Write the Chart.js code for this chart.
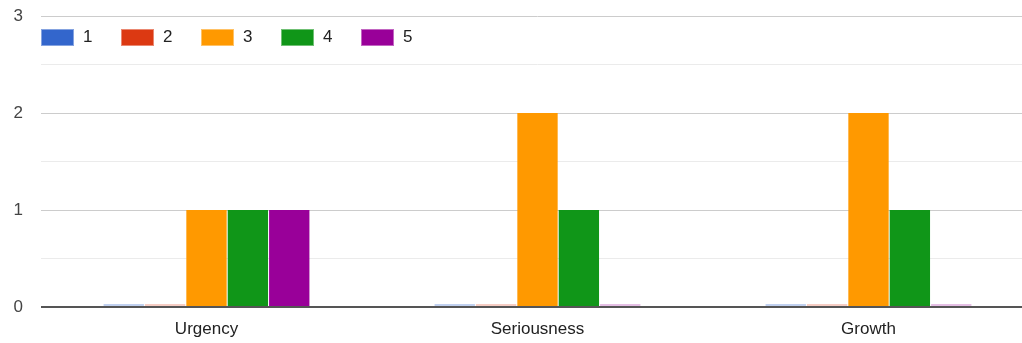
<!DOCTYPE html>
<html>
<head>
<meta charset="utf-8">
<script src="https://cdn.jsdelivr.net/npm/chart.js@4"></script>
<style>
    html, body { margin: 0; padding: 0; background: #fff; overflow: hidden; }
    #wrap { position: relative; width: 1022px; height: 343px; overflow: hidden; }
    #barChart { position: absolute; left: 0; top: 0; }
    #legend { position: absolute; left: 41px; top: 27px; display: flex; font-family: Arial, "Liberation Sans", sans-serif; font-size: 17px; color: #222; }
    .item { display: flex; align-items: center; width: 80px; }
    .box { width: 31px; height: 15px; border: 1px solid; margin-right: 9px; }
</style>
</head>
<body>
<div id="wrap">
    <canvas id="barChart" width="1036" height="343"></canvas>
    <div id="legend"></div>
</div>
<script>
const categories = ['Urgency', 'Seriousness', 'Growth'];
const seriesNames = ['1', '2', '3', '4', '5'];
const series1 = [0, 0, 0];
const series2 = [0, 0, 0];
const series3 = [1, 2, 2];
const series4 = [1, 1, 1];
const series5 = [1, 0, 0];
const yTicks = [0, 1, 2, 3];

const colors = ['#3366cc', '#dc3912', '#ff9900', '#109618', '#990099'];
const faded = ['rgba(51,102,204,0.3)', 'rgba(220,57,18,0.25)', 'rgba(255,153,0,0.3)', 'rgba(16,150,24,0.25)', 'rgba(153,0,153,0.25)'];
const light = ['#85a3e0', '#ea8871', '#ffc266', '#70c074', '#c266c2'];

const allSeries = [series1, series2, series3, series4, series5];

// legend sits inside the plot, top left
const legendEl = document.getElementById('legend');
seriesNames.forEach((name, i) => {
    const item = document.createElement('div');
    item.className = 'item';
    const box = document.createElement('span');
    box.className = 'box';
    box.style.background = colors[i];
    box.style.borderColor = light[i];
    item.appendChild(box);
    item.appendChild(document.createTextNode(name));
    legendEl.appendChild(item);
});

const font = { family: 'Arial, "Liberation Sans", sans-serif', size: 17 };

const ctx = document.getElementById('barChart').getContext('2d');
new Chart(ctx, {
    type: 'bar',
    data: {
        labels: categories,
        datasets: allSeries.map((values, i) => ({
            label: seriesNames[i],
            data: values,
            backgroundColor: c => c.raw === 0 ? faded[i] : colors[i],
            borderWidth: 0,
            minBarLength: 3,
            categoryPercentage: 0.625,
            barPercentage: 0.975
        }))
    },
    options: {
        responsive: false,
        maintainAspectRatio: false,
        animation: false,
        layout: { padding: { left: 0, right: 2, top: 0, bottom: 6 } },
        plugins: {
            legend: { display: false },
            tooltip: { enabled: false }
        },
        scales: {
            x: {
                afterFit: scale => { scale.height = 30; },
                grid: { display: false },
                border: { display: false },
                ticks: { font: font, color: '#222', padding: 4 }
            },
            y: {
                min: 0,
                max: 3,
                afterFit: scale => {
                    scale.width = 41;
                    scale.paddingTop = 16;
                },
                border: { display: false },
                grid: {
                    drawTicks: false,
                    color: c => c.tick.value === 0 ? '#555' : (Number.isInteger(c.tick.value) ? '#ccc' : '#ebebeb'),
                    lineWidth: c => c.tick.value === 0 ? 2 : 1
                },
                ticks: {
                    stepSize: 0.5,
                    padding: 18,
                    font: font,
                    color: '#444',
                    callback: v => yTicks.includes(v) ? String(v) : ''
                }
            }
        }
    }
});
</script>
</body>
</html>
